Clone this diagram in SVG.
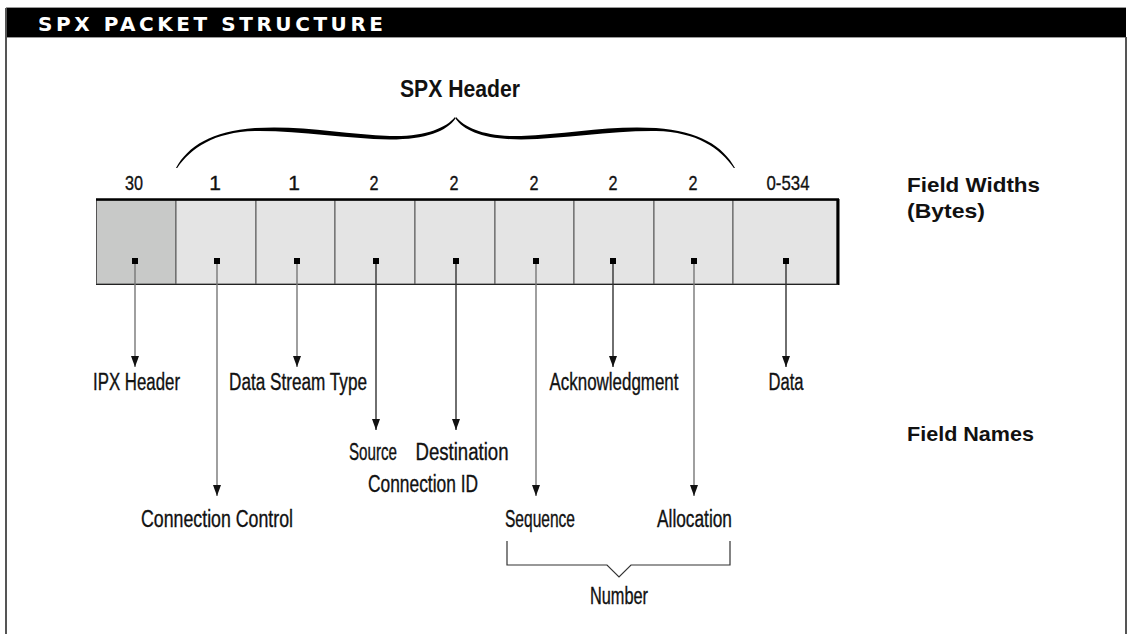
<svg xmlns="http://www.w3.org/2000/svg" width="1130" height="634" viewBox="0 0 1130 634">
<defs>
<style>
.lbl{font-family:"Liberation Sans",Arial,sans-serif;font-size:23px;fill:#111;stroke:#111;stroke-width:0.35;text-anchor:middle}
.num{font-family:"Liberation Sans",Arial,sans-serif;font-size:21px;fill:#111;stroke:#111;stroke-width:0.35;text-anchor:middle}
.bold{font-family:"Liberation Sans",Arial,sans-serif;font-size:21px;font-weight:bold;fill:#111}
.cell{fill:#e4e4e4;stroke:#555;stroke-width:1}
.dot{fill:#000}
.lnk{stroke:#333;stroke-width:1.4;fill:none}
.lnkg{stroke:#777;stroke-width:1.4;fill:none}
</style>
<marker id="ah" viewBox="0 0 11 8" refX="11" refY="4" markerWidth="11" markerHeight="8" markerUnits="userSpaceOnUse" orient="auto">
<path d="M0,0 L11,4 L0,8 Z" fill="#111"/>
</marker>
</defs>
<rect width="1130" height="634" fill="#fff"/>
<g id="frame">
<rect x="6" y="8" width="1120" height="29" fill="#000"/>
<line x1="6" y1="7.5" x2="1126" y2="7.5" stroke="#999" stroke-width="1"/>
<line x1="6" y1="37.5" x2="1126" y2="37.5" stroke="#999" stroke-width="1"/>
<line x1="6" y1="8" x2="6" y2="634" stroke="#555" stroke-width="2"/>
<line x1="1126" y1="37" x2="1126" y2="634" stroke="#555" stroke-width="2"/>
<text x="38" y="30.5" textLength="345" lengthAdjust="spacing" style="font-family:'DejaVu Sans',sans-serif;font-size:20px;font-weight:bold;fill:#fff">SPX PACKET STRUCTURE</text>
</g>
<g id="spx-header">
<text x="460" y="97" textLength="120" lengthAdjust="spacingAndGlyphs" class="bold" style="font-size:24px;text-anchor:middle">SPX Header</text>
<g id="brace-left">
<path d="M176,168 C188,146 212,131 255,128 C300,125 345,134 390,136 C425,137 446,128 455,117 L455.5,118.5 C447,131 426,139.5 390,139.5 C345,138.5 300,130.5 255,131 C214,132 191,148 177.2,168 Z" fill="#000"/>
</g>
<g id="brace-right" transform="translate(911,0) scale(-1,1)">
<path d="M176,168 C188,146 212,131 255,128 C300,125 345,134 390,136 C425,137 446,128 455,117 L455.5,118.5 C447,131 426,139.5 390,139.5 C345,138.5 300,130.5 255,131 C214,132 191,148 177.2,168 Z" fill="#000"/>
</g>
</g>
<g id="widths" class="num">
<text x="134" y="190" textLength="18" lengthAdjust="spacingAndGlyphs">30</text>
<text x="215" y="190">1</text>
<text x="294" y="190">1</text>
<text x="374" y="190" textLength="9" lengthAdjust="spacingAndGlyphs">2</text>
<text x="454" y="190" textLength="9" lengthAdjust="spacingAndGlyphs">2</text>
<text x="534" y="190" textLength="9" lengthAdjust="spacingAndGlyphs">2</text>
<text x="613" y="190" textLength="9" lengthAdjust="spacingAndGlyphs">2</text>
<text x="693" y="190" textLength="9" lengthAdjust="spacingAndGlyphs">2</text>
<text x="788" y="190" textLength="43" lengthAdjust="spacingAndGlyphs">0-534</text>
</g>
<g id="field-widths-label">
<text x="907" y="192" class="bold" textLength="133" lengthAdjust="spacingAndGlyphs">Field Widths</text>
<text x="907" y="218" class="bold" textLength="78" lengthAdjust="spacingAndGlyphs">(Bytes)</text>
</g>
<g id="packet">
<rect id="cell-ipx" x="96.5" y="200" width="79.5" height="84" fill="#c8c9c8" stroke="#555" stroke-width="1"/>
<rect id="cell-cc" class="cell" x="176" y="200" width="80" height="84"/>
<rect id="cell-dst" class="cell" x="256" y="200" width="79" height="84"/>
<rect id="cell-src" class="cell" x="335" y="200" width="80" height="84"/>
<rect id="cell-dest" class="cell" x="415" y="200" width="80" height="84"/>
<rect id="cell-seq" class="cell" x="495" y="200" width="79" height="84"/>
<rect id="cell-ack" class="cell" x="574" y="200" width="80" height="84"/>
<rect id="cell-alloc" class="cell" x="654" y="200" width="79" height="84"/>
<rect id="cell-data" class="cell" x="733" y="200" width="104" height="84"/>
<line x1="96" y1="199.5" x2="839" y2="199.5" stroke="#000" stroke-width="2.5"/>
<line x1="838" y1="199" x2="838" y2="285" stroke="#000" stroke-width="3"/>
<line x1="96" y1="284.5" x2="838" y2="284.5" stroke="#222" stroke-width="1.2"/>
<rect class="dot" x="132" y="258" width="6" height="6"/>
<rect class="dot" x="214" y="258" width="6" height="6"/>
<rect class="dot" x="294" y="258" width="6" height="6"/>
<rect class="dot" x="373" y="258" width="6" height="6"/>
<rect class="dot" x="453" y="258" width="6" height="6"/>
<rect class="dot" x="533" y="258" width="6" height="6"/>
<rect class="dot" x="610" y="258" width="6" height="6"/>
<rect class="dot" x="691" y="258" width="6" height="6"/>
<rect class="dot" x="783" y="258" width="6" height="6"/>
</g>
<g id="connectors">
<line class="lnkg" x1="135" y1="264" x2="135" y2="367" marker-end="url(#ah)"/>
<line class="lnkg" x1="217" y1="264" x2="217" y2="496" marker-end="url(#ah)"/>
<line class="lnkg" x1="297" y1="264" x2="297" y2="367" marker-end="url(#ah)"/>
<line class="lnk" x1="376" y1="264" x2="376" y2="430" marker-end="url(#ah)"/>
<line class="lnk" x1="456" y1="264" x2="456" y2="430" marker-end="url(#ah)"/>
<line class="lnkg" x1="536" y1="264" x2="536" y2="496" marker-end="url(#ah)"/>
<line class="lnk" x1="613" y1="264" x2="613" y2="367" marker-end="url(#ah)"/>
<line class="lnkg" x1="694" y1="264" x2="694" y2="496" marker-end="url(#ah)"/>
<line class="lnk" x1="786" y1="264" x2="786" y2="367" marker-end="url(#ah)"/>
<path id="number-bracket" d="M507,541 V565 H607 L619,577 L631,565 H730 V541" stroke="#333" stroke-width="1.2" fill="none"/>
</g>
<g id="names" class="lbl">
<text id="n-ipx" x="136.5" y="390" textLength="87" lengthAdjust="spacingAndGlyphs">IPX Header</text>
<text id="n-dst" x="298" y="390" textLength="138" lengthAdjust="spacingAndGlyphs">Data Stream Type</text>
<text id="n-ack" x="614" y="390" textLength="129" lengthAdjust="spacingAndGlyphs">Acknowledgment</text>
<text id="n-data" x="786" y="390" textLength="35" lengthAdjust="spacingAndGlyphs">Data</text>
<text id="n-src" x="373" y="460" textLength="48" lengthAdjust="spacingAndGlyphs">Source</text>
<text id="n-dest" x="462" y="460" textLength="93" lengthAdjust="spacingAndGlyphs">Destination</text>
<text id="n-cid" x="423" y="492" textLength="110" lengthAdjust="spacingAndGlyphs">Connection ID</text>
<text id="n-cc" x="217" y="527" textLength="152" lengthAdjust="spacingAndGlyphs">Connection Control</text>
<text id="n-seq" x="540" y="527" textLength="70" lengthAdjust="spacingAndGlyphs">Sequence</text>
<text id="n-alloc" x="694.5" y="527" textLength="75" lengthAdjust="spacingAndGlyphs">Allocation</text>
<text id="n-num" x="619" y="604" textLength="58" lengthAdjust="spacingAndGlyphs">Number</text>
</g>
<g id="field-names-label">
<text x="907" y="441" class="bold" textLength="127" lengthAdjust="spacingAndGlyphs">Field Names</text>
</g>
</svg>
